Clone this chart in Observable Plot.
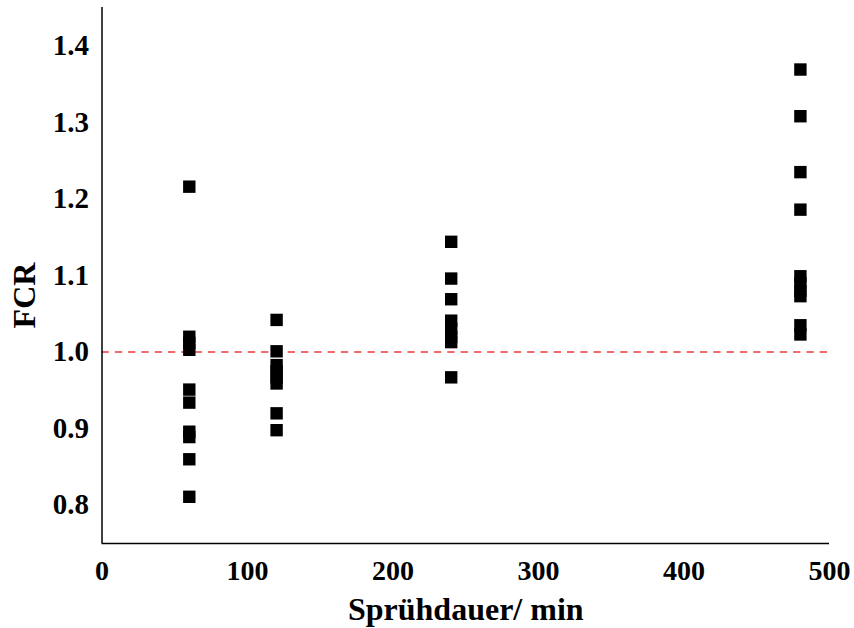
<!DOCTYPE html>
<html>
<head>
<meta charset="utf-8">
<script src="https://cdn.jsdelivr.net/npm/d3@7"></script>
<script src="https://cdn.jsdelivr.net/npm/@observablehq/plot@0.6"></script>
<style>
  html, body { margin: 0; padding: 0; background: #fff; }
  #chart svg { display: block; }
</style>
</head>
<body>
<div id="chart"></div>
<script>
const durations = [60, 120, 240, 480];
const fcr60 = [1.216, 1.020, 1.012, 1.003, 0.951, 0.934, 0.896, 0.889, 0.860, 0.811];
const fcr120 = [1.042, 1.001, 0.983, 0.975, 0.967, 0.959, 0.920, 0.898];
const fcr240 = [1.144, 1.096, 1.069, 1.041, 1.030, 1.020, 1.013, 0.967];
const fcr480 = [1.369, 1.308, 1.235, 1.186, 1.099, 1.090, 1.080, 1.073, 1.035, 1.023];
const xTicks = [0, 100, 200, 300, 400, 500];
const yTicks = [0.8, 0.9, 1.0, 1.1, 1.2, 1.3, 1.4];
const reference = 1.0;

const series = [fcr60, fcr120, fcr240, fcr480];
const data = series.flatMap((vals, i) => vals.map(v => ({x: durations[i], y: v})));

const font = "'Liberation Serif', 'Times New Roman', serif";
const yMin = 0.75, yMax = 1.45;

const chart = Plot.plot({
  width: 854,
  height: 628,
  marginLeft: 101.5,
  marginRight: 25,
  marginTop: 7,
  marginBottom: 85,
  style: {fontFamily: font, fontWeight: "bold", fontSize: "28px", color: "#000", background: "#fff"},
  x: {domain: [0, 500]},
  y: {domain: [yMin, yMax]},
  marks: [
    Plot.axisX({ticks: xTicks, tickSize: 0, tickPadding: 17, tickFormat: d3.format("d"), label: null, fontSize: 28}),
    Plot.axisY({ticks: yTicks, tickSize: 0, tickPadding: 13, tickFormat: d3.format(".1f"), label: null, fontSize: 29}),
    Plot.ruleY([reference], {stroke: "#ee3b3b", strokeWidth: 1.6, strokeDasharray: "7.3,6"}),
    Plot.ruleX([0], {stroke: "#000", strokeWidth: 1.5}),
    Plot.ruleY([yMin], {stroke: "#000", strokeWidth: 1.5}),
    Plot.dot(data, {x: "x", y: "y", symbol: "square", r: 7, fill: "#000", stroke: null}),
    Plot.text(["Sprühdauer/ min"], {frameAnchor: "bottom", lineAnchor: "middle", textAnchor: "middle", dy: 66, text: d => d, fontSize: 32, fontWeight: "bold", fill: "#000"}),
    Plot.text(["FCR"], {frameAnchor: "left", lineAnchor: "middle", textAnchor: "middle", dx: -77, dy: 20, rotate: -90, text: d => d, fontSize: 32, fontWeight: "bold", fill: "#000"})
  ]
});
document.getElementById("chart").appendChild(chart);
</script>
</body>
</html>
